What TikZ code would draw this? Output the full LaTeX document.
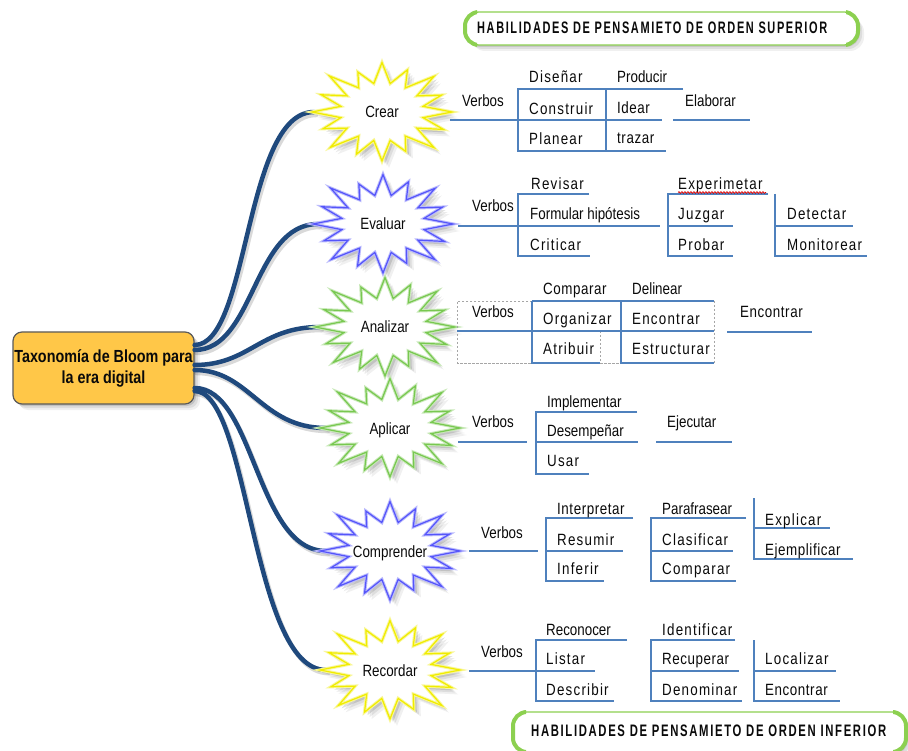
\documentclass[tikz,border=0pt]{standalone}
\usepackage{fontspec}
\usepackage{graphicx}
\setmainfont{Liberation Sans}[FakeStretch=0.82]
\usetikzlibrary{decorations.pathmorphing}
\definecolor{curveblue}{RGB}{31,73,125}
\definecolor{lineblue}{RGB}{79,129,189}
\definecolor{rootfill}{RGB}{255,199,72}
\definecolor{rootdraw}{RGB}{90,90,90}
\definecolor{bgreen}{RGB}{140,208,80}
\definecolor{sYellow}{RGB}{240,236,0}
\definecolor{sBlue}{RGB}{85,85,250}
\definecolor{sGreen}{RGB}{120,200,80}
\definecolor{txt}{RGB}{10,10,10}
\newcommand{\txtsize}{\fontsize{16.3}{19}\selectfont}
\newcommand{\mkburst}[5]{%
\begin{scope}[shift={(#2,#3)}]
\foreach \o/\op in {7/0.06,5/0.08,3/0.12}{%
 \fill[black,opacity=\op,shift={(\o,\o)}] (0:70pt and 48pt)
   \foreach \i/\f [evaluate=\f as \rx using 70*\f, evaluate=\f as \ry using 48*\f] in
   {0/0.92,1/1.05,2/0.95,3/1.03,4/0.9,5/1.06,6/0.94,7/1.0,8/0.91,9/1.04,10/0.95,11/1.02,12/0.89,13/1.05,14/0.95,15/1.0}
   { -- ({\i*22.5+11.25}:42pt and 29pt) -- ({(\i+1)*22.5}:\rx pt and \ry pt) } -- cycle;}
\filldraw[fill=white,draw=#4!40,line width=3.2pt,line join=miter] (0:70pt and 48pt)
   \foreach \i/\f [evaluate=\f as \rx using 70*\f, evaluate=\f as \ry using 48*\f] in
   {0/0.92,1/1.05,2/0.95,3/1.03,4/0.9,5/1.06,6/0.94,7/1.0,8/0.91,9/1.04,10/0.95,11/1.02,12/0.89,13/1.05,14/0.95,15/1.0}
   { -- ({\i*22.5+11.25}:42pt and 29pt) -- ({(\i+1)*22.5}:\rx pt and \ry pt) } -- cycle;
\draw[draw=#4,line width=1.2pt,line join=miter] (0:70pt and 48pt)
   \foreach \i/\f [evaluate=\f as \rx using 70*\f, evaluate=\f as \ry using 48*\f] in
   {0/0.92,1/1.05,2/0.95,3/1.03,4/0.9,5/1.06,6/0.94,7/1.0,8/0.91,9/1.04,10/0.95,11/1.02,12/0.89,13/1.05,14/0.95,15/1.0}
   { -- ({\i*22.5+11.25}:42pt and 29pt) -- ({(\i+1)*22.5}:\rx pt and \ry pt) } -- cycle;
\node[starlabel] (#1) at (0,6) {#5};
\end{scope}}
\begin{document}
\begin{tikzpicture}[x=1pt,y=-1pt,
  tl/.style={draw=lineblue,line width=1.2pt},
  dl/.style={draw=gray!70,line width=0.9pt,dash pattern=on 2.5pt off 1.5pt},
  w/.style={anchor=base west,inner sep=0pt,text=txt,font=\txtsize},
  ls1/.style={font=\txtsize\addfontfeature{LetterSpace=3.5}},
  ls2/.style={font=\txtsize\addfontfeature{LetterSpace=7.5}},
  starlabel/.style={anchor=base,inner sep=0pt,text=txt,font=\txtsize},
  curve/.style={draw=curveblue,line width=4.5pt,line cap=round},
  banner/.style={fill=white,draw=bgreen,line width=1.3pt,rounded corners=14pt},
  bannerthick/.style={draw=bgreen,line width=4pt,rounded corners=14pt},
  rootbox/.style={draw=rootdraw,fill=rootfill,rounded corners=9pt,line width=1.2pt,
     minimum width=181pt,minimum height=72pt,inner sep=0pt,align=center,text=txt,
     font=\bfseries\fontsize{17.5}{21}\selectfont}]
\useasboundingbox (0,0) rectangle (908,751);
\fill[white] (0,0) rectangle (908,751);

% ---- banners
\foreach \o/\op in {6/0.06,4/0.08,2/0.1}{\fill[black,opacity=\op,rounded corners=14pt] (465+\o,12+\o) rectangle (858+\o,45+\o);}
\draw[banner] (465,12) rectangle (858,45);
\begin{scope}\clip (440,0) rectangle (477,60); \draw[bannerthick] (465,12) rectangle (858,45);\end{scope}
\begin{scope}\clip (846,0) rectangle (880,60); \draw[bannerthick] (465,12) rectangle (858,45);\end{scope}
\node[anchor=base west,inner sep=0pt,text=txt] (bsup) at (477,33.3)
  {\resizebox{350pt}{11.6pt}{\bfseries\addfontfeature{LetterSpace=12}HABILIDADES DE PENSAMIETO DE ORDEN SUPERIOR}};

\foreach \o/\op in {6/0.06,4/0.08,2/0.1}{\fill[black,opacity=\op,rounded corners=14pt] (513+\o,712+\o) rectangle (906+\o,752+\o);}
\draw[banner] (513,712) rectangle (906,752);
\begin{scope}\clip (490,690) rectangle (526,760); \draw[bannerthick] (513,712) rectangle (906,752);\end{scope}
\begin{scope}\clip (893,690) rectangle (920,760); \draw[bannerthick] (513,712) rectangle (906,752);\end{scope}
\node[anchor=base west,inner sep=0pt,text=txt] (binf) at (531,736)
  {\resizebox{355pt}{11.6pt}{\bfseries\addfontfeature{LetterSpace=12}HABILIDADES DE PENSAMIETO DE ORDEN INFERIOR}};

% ---- root
\foreach \o/\op in {6/0.06,4/0.08,2/0.12}{\fill[black,opacity=\op,rounded corners=9pt] (13+\o,332+\o) rectangle (194+\o,404+\o);}
\node[rootbox] (root) at (103.5,368) {Taxonomía de Bloom para\\la era digital};

% ---- curves
\coordinate (crearL) at (314,112);
\coordinate (evalL) at (318,224);
\coordinate (anaL) at (320,327);
\coordinate (apliL) at (326,428);
\coordinate (compL) at (326,551);
\coordinate (recL) at (326,670);
\begin{scope}[transform canvas={shift={(2pt,-3pt)}}]
\draw[curve,draw=black,opacity=0.15] ([yshift=23pt]root.east) .. controls +(55,0) and +(-70,0) .. (crearL);
\draw[curve,draw=black,opacity=0.15] ([yshift=18pt]root.east) .. controls +(60,0) and +(-65,0) .. (evalL);
\draw[curve,draw=black,opacity=0.15] ([yshift=3pt]root.east) .. controls +(55,0) and +(-60,0) .. (anaL);
\draw[curve,draw=black,opacity=0.15] ([yshift=-2pt]root.east) .. controls +(55,0) and +(-65,0) .. (apliL);
\draw[curve,draw=black,opacity=0.15] ([yshift=-20pt]root.east) .. controls +(60,0) and +(-70,0) .. (compL);
\draw[curve,draw=black,opacity=0.15] ([yshift=-23pt]root.east) .. controls +(55,0) and +(-75,0) .. (recL);
\end{scope}
\draw[curve] ([yshift=23pt]root.east) .. controls +(55,0) and +(-70,0) .. (crearL);
\draw[curve] ([yshift=18pt]root.east) .. controls +(60,0) and +(-65,0) .. (evalL);
\draw[curve] ([yshift=3pt]root.east) .. controls +(55,0) and +(-60,0) .. (anaL);
\draw[curve] ([yshift=-2pt]root.east) .. controls +(55,0) and +(-65,0) .. (apliL);
\draw[curve] ([yshift=-20pt]root.east) .. controls +(60,0) and +(-70,0) .. (compL);
\draw[curve] ([yshift=-23pt]root.east) .. controls +(55,0) and +(-75,0) .. (recL);

% ---- stars
\mkburst{crear}{382}{112}{sYellow}{Crear}
\mkburst{evaluar}{383}{224}{sBlue}{Evaluar}
\mkburst{analizar}{385}{327}{sGreen}{Analizar}
\mkburst{aplicar}{390}{428}{sGreen}{Aplicar}
\mkburst{comprender}{390}{551}{sBlue}{Comprender}
\mkburst{recordar}{390}{670}{sYellow}{Recordar}

% ---- Crear
\draw[tl] (450,120) -- (662,120);
\draw[tl] (683,89) -- (518,89) -- (518,151) -- (666,151);
\draw[tl] (606,89) -- (606,151);
\draw[tl] (673,120) -- (750,120);
\node[w] (c1v) at (462,107) {Verbos};
\node[w,ls2] (c1a) at (529,83) {Diseñar};
\node[w] (c1b) at (617,83) {Producir};
\node[w,ls2] (c1c) at (529,115) {Construir};
\node[w,ls1] (c1d) at (617,114) {Idear};
\node[w,ls2] (c1e) at (529,145) {Planear};
\node[w,ls1] (c1f) at (617,144) {trazar};
\node[w] (c1g) at (685,107) {Elaborar};

% ---- Evaluar
\draw[tl] (458,226) -- (660,226);
\draw[tl] (589,194) -- (518,194) -- (518,256) -- (590,256);
\draw[tl] (768,194) -- (668,194) -- (668,256) -- (733,256);
\draw[tl] (668,226) -- (733,226);
\draw[tl] (775,194) -- (775,256) -- (867,256);
\draw[tl] (775,226) -- (853,226);
\node[w] (c2v) at (472,212) {Verbos};
\node[w,ls2] (c2a) at (531,190) {Revisar};
\node[w] (c2b) at (530,220) {Formular hipótesis};
\node[w,ls2] (c2c) at (530,251) {Criticar};
\node[w,ls2] (c2d) at (678,190) {Experimetar};
\node[w,ls2] (c2e) at (678,220) {Juzgar};
\node[w,ls2] (c2f) at (678,251) {Probar};
\node[w,ls2] (c2g) at (787,220) {Detectar};
\node[w,ls2] (c2h) at (787,251) {Monitorear};
\draw[red!85!black,line width=0.7pt,decorate,decoration={snake,amplitude=0.9pt,segment length=3pt}] (678,192.5) -- (766,192.5);

% ---- Analizar
\draw[dl] (532,301) -- (457,301) -- (457,363) -- (532,363);
\draw[dl] (600,331) -- (600,363) -- (621,363);
\draw[dl] (714,301) -- (714,363);
\draw[tl] (532,301) -- (714,301);
\draw[tl] (457,331) -- (714,331);
\draw[tl] (532,301) -- (532,363) -- (600,363);
\draw[tl] (621,301) -- (621,363) -- (714,363);
\draw[tl] (727,332) -- (812,332);
\node[w,ls1] (c3a) at (543,295) {Comparar};
\node[w] (c3b) at (632,295) {Delinear};
\node[w] (c3v) at (472,318) {Verbos};
\node[w,ls2] (c3c) at (543,325) {Organizar};
\node[w,ls2] (c3d) at (632,325) {Encontrar};
\node[w,ls2] (c3e) at (543,355) {Atribuir};
\node[w,ls2] (c3f) at (632,355) {Estructurar};
\node[w,ls1] (c3g) at (740,318) {Encontrar};

% ---- Aplicar
\draw[tl] (458,442) -- (527,442);
\draw[tl] (637,412) -- (536,412) -- (536,474) -- (589,474);
\draw[tl] (536,442) -- (638,442);
\draw[tl] (656,442) -- (732,442);
\node[w] (c4v) at (472,428) {Verbos};
\node[w] (c4a) at (547,407) {Implementar};
\node[w] (c4b) at (547,436) {Desempeñar};
\node[w,ls2] (c4c) at (547,466) {Usar};
\node[w] (c4d) at (667,428) {Ejecutar};

% ---- Comprender
\draw[tl] (469,551) -- (538,551);
\draw[tl] (633,518) -- (546,518) -- (546,581) -- (604,581);
\draw[tl] (546,551) -- (623,551);
\draw[tl] (746,518) -- (651,518) -- (651,581) -- (736,581);
\draw[tl] (651,551) -- (733,551);
\draw[tl] (754,498) -- (754,559) -- (853,559);
\draw[tl] (754,528) -- (830,528);
\node[w] (c5v) at (481,538) {Verbos};
\node[w,ls1] (c5a) at (557,514) {Interpretar};
\node[w,ls2] (c5b) at (557,545) {Resumir};
\node[w,ls2] (c5c) at (557,574) {Inferir};
\node[w] (c5d) at (662,514) {Parafrasear};
\node[w,ls2] (c5e) at (662,545) {Clasificar};
\node[w,ls2] (c5f) at (662,574) {Comparar};
\node[w,ls2] (c5g) at (765,525) {Explicar};
\node[w,ls1] (c5h) at (765,555) {Ejemplificar};

% ---- Recordar
\draw[tl] (469,671) -- (595,671);
\draw[tl] (627,640) -- (536,640) -- (536,701) -- (614,701);
\draw[tl] (735,640) -- (651,640) -- (651,701) -- (742,701);
\draw[tl] (651,671) -- (739,671);
\draw[tl] (754,640) -- (754,701) -- (840,701);
\draw[tl] (754,671) -- (836,671);
\node[w] (c6v) at (481,657) {Verbos};
\node[w] (c6a) at (546,635) {Reconocer};
\node[w,ls2] (c6b) at (546,664) {Listar};
\node[w,ls2] (c6c) at (546,695) {Describir};
\node[w,ls2] (c6d) at (662,635) {Identificar};
\node[w,ls1] (c6e) at (662,664) {Recuperar};
\node[w,ls2] (c6f) at (662,695) {Denominar};
\node[w,ls2] (c6g) at (765,664) {Localizar};
\node[w,ls1] (c6h) at (765,695) {Encontrar};
\end{tikzpicture}
\end{document}
